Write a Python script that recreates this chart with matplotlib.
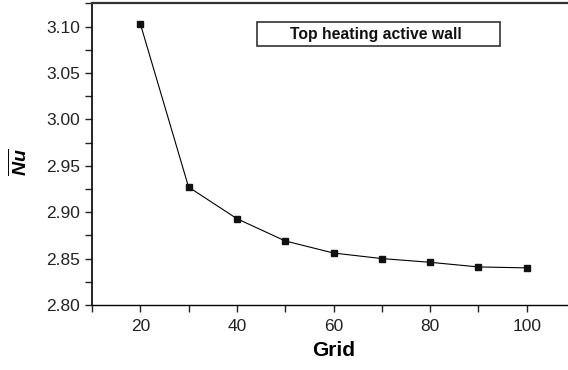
import matplotlib
matplotlib.use('Agg')

import matplotlib.pyplot as plt
from matplotlib.patches import Rectangle
from matplotlib.ticker import MultipleLocator

plt.rcParams['font.family'] = ['Liberation Sans', 'DejaVu Sans']
plt.rcParams['mathtext.fontset'] = 'custom'
plt.rcParams['mathtext.bfit'] = 'Liberation Sans:bold:italic'
plt.rcParams['mathtext.bf'] = 'Liberation Sans:bold'

# data
grid = [20, 30, 40, 50, 60, 70, 80, 90, 100]
nu = [3.103, 2.927, 2.893, 2.869, 2.856, 2.850, 2.846, 2.841, 2.840]
x_ticks = [20, 40, 60, 80, 100]
y_ticks = [2.80, 2.85, 2.90, 2.95, 3.00, 3.05, 3.10]
legend_text = 'Top heating active wall'

W, H = 568, 370
fig = plt.figure(figsize=(W / 100, H / 100), dpi=100)
# right side of the frame is cut off in the original
ax = fig.add_axes([92 / W, 1 - 305 / H, (575 - 92) / W, (305 - 3.3) / H])

ax.plot(grid, nu, color='black', lw=0.8, marker='s', markersize=5,
        markerfacecolor='#111111', markeredgecolor='#111111')

ax.set_xlim(10, 110)
ax.set_ylim(2.80, 3.125)
ax.set_xticks(x_ticks)
ax.set_yticks(y_ticks)
ax.set_yticklabels([f'{v:.2f}' for v in y_ticks])
ax.xaxis.set_minor_locator(MultipleLocator(10))
ax.yaxis.set_minor_locator(MultipleLocator(0.025))
ax.tick_params(which='both', direction='out', length=5, width=1, labelsize=12.5, colors='#222222')
ax.tick_params(axis='x', pad=5)

ax.spines['right'].set_visible(False)
ax.spines['top'].set_linewidth(1.6)
ax.spines['top'].set_color('#333333')
ax.spines['left'].set_linewidth(1.2)
ax.spines['bottom'].set_linewidth(1.0)

ax.set_xlabel('Grid', fontsize=15, fontweight='bold', labelpad=5)
ax.set_ylabel(r'$\overline{\mathbfit{Nu}}$', fontsize=14)
ax.yaxis.set_label_coords(-0.128, 0.474)

# legend-like box with text only
fig.patches.append(Rectangle((257 / W, 1 - 46 / H), (500 - 257) / W, 24 / H,
                             transform=fig.transFigure, fc='white', ec='#333333', lw=1.2))
fig.text(376 / W, 1 - 34.5 / H, legend_text, ha='center', va='center',
         fontsize=11.3, fontweight='bold', color='#111111')

fig.savefig('out.png', dpi=100)
